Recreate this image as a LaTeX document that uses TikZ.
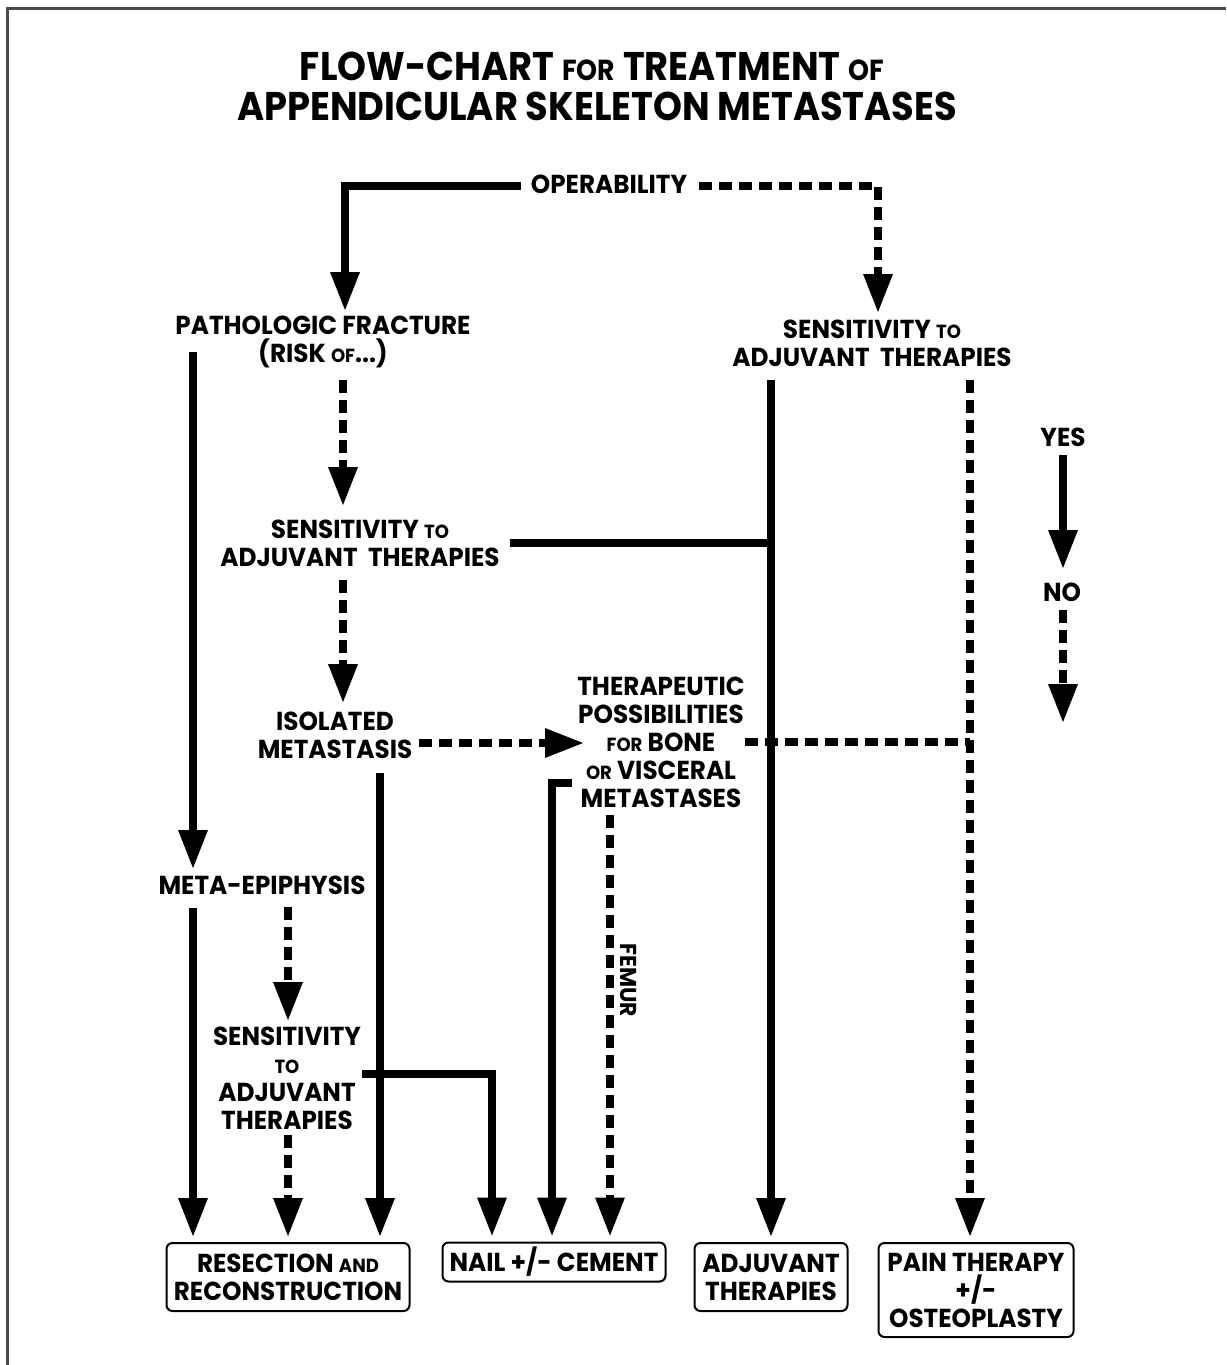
\documentclass[tikz,border=0pt]{standalone}
\usepackage{fontspec}
\newfontfamily\bodyfont[FakeStretch=0.95]{Poppins}
\newfontfamily\titlefont[FakeStretch=0.92]{Poppins}
\usetikzlibrary{arrows.meta,calc}
\newcommand\smw[1]{{\fontsize{19}{19}\selectfont #1}}
\newcommand\smt[1]{{\fontsize{29}{29}\selectfont #1}}
\tikzset{
  sol/.style={line width=7.5pt, line join=miter},
  dsh/.style={line width=7.5pt, dash pattern=on 13pt off 7pt},
  tip/.style={-{Triangle[width=30pt,length=38pt,line width=0pt]}},
  lbl/.style={font=\bodyfont\bfseries\fontsize{26}{28}\selectfont, align=center, inner sep=0pt},
  box/.style={lbl, draw, line width=2pt, rounded corners=6pt},
  ttl/.style={font=\titlefont\bfseries\fontsize{40}{40}\selectfont, inner sep=0pt}
}
\begin{document}
\begin{tikzpicture}[x=1pt,y=-1pt]
\useasboundingbox (0,0) rectangle (1226,1365);
\fill[white] (0,0) rectangle (1226,1365);
\draw[line width=3pt, black!70] (7,1365) -- (7,8) -- (1226,8);

% title
\node[ttl] (t1) at (592,66) {FLOW-CHART \smt{FOR} TREATMENT \smt{OF}};
\node[ttl] (t2) at (597,106) {APPENDICULAR SKELETON METASTASES};

% labels
\node[lbl] (op) at (609,184) {OPERABILITY};
\node[lbl] (pf) at (323,342) {PATHOLOGIC FRACTURE\\(RISK \smw{OF}...)};
\node[lbl] (sr) at (872,343) {SENSITIVITY \smw{TO}\\ADJUVANT\ \ THERAPIES};
\node[lbl] (sm) at (360,543) {SENSITIVITY \smw{TO}\\ADJUVANT\ \ THERAPIES};
\node[lbl] (iso) at (335,735) {ISOLATED\\METASTASIS};
\node[lbl] (tp) at (661,742) {THERAPEUTIC\\POSSIBILITIES\\\smw{FOR} BONE\\\smw{OR} VISCERAL\\METASTASES};
\node[lbl] (me) at (262,885) {META-EPIPHYSIS};
\node[lbl] (sl) at (287,1078) {SENSITIVITY\\\smw{TO}\\ADJUVANT\\THERAPIES};
\node[lbl, font=\bodyfont\bfseries\fontsize{23}{23}\selectfont, rotate=-90] (fe) at (628,980) {FEMUR};
\node[lbl] (yes) at (1063,437) {YES};
\node[lbl] (no) at (1062,592) {NO};
\coordinate (noend) at (1063,722);

% boxes
\node[box, minimum width=243pt, minimum height=68pt] (res) at (288,1277) {RESECTION \smw{AND}\\RECONSTRUCTION};
\node[box, minimum width=223pt, minimum height=39pt] (nail) at (554,1262) {NAIL +/- CEMENT};
\node[box, minimum width=153pt, minimum height=68pt] (adj) at (771,1277) {ADJUVANT\\THERAPIES};
\node[box, minimum width=195pt, minimum height=94pt] (pain) at (976,1290) {PAIN THERAPY\\+/-\\OSTEOPLASTY};

% connectors
\draw[sol,tip] ([shift={(-10,2)}]op.west) -| ([shift={(22,-32)}]pf.center);
\draw[dsh,tip] ([shift={(12,2)}]op.east) -| ([shift={(6,-31)}]sr.center);
\draw[sol,tip] ([shift={(-130,10)}]pf.center) -- ([shift={(-69,-17)}]me.center);
\draw[dsh,tip] ([shift={(20,38)}]pf.center) -- ([shift={(-17,-38)}]sm.center);
\draw[sol] ([xshift=10pt]sm.east) -- (sm.east -| adj.north);
\draw[sol,tip] ([shift={(-101,37)}]sr.center) -- ([shift={(0,-6)}]adj.north);
\draw[dsh,tip] ([shift={(98,37)}]sr.center) -- ([shift={(-6,-6)}]pain.north);
\draw[dsh,tip] ([shift={(-17,37)}]sm.center) -- ([shift={(8,-33)}]iso.center);
\draw[dsh,tip] ([shift={(84,8)}]iso.center) -- ([shift={(-78,1)}]tp.center);
\draw[dsh] ([shift={(84,0)}]tp.center) -- ($(tp.center -| pain.north)+(-6,0)$);
\draw[sol,tip] ([shift={(45,38)}]iso.center) -- ([shift={(92,-6)}]res.north);
\draw[sol,tip] ([shift={(-89,41)}]tp.center) -| ([shift={(-2,-6)}]nail.north);
\draw[dsh,tip] ([shift={(-51,73)}]tp.center) -- ([shift={(56,-6)}]nail.north);
\draw[sol,tip] ([shift={(-69,23)}]me.center) -- ([shift={(-95,-6)}]res.north);
\draw[dsh,tip] ([shift={(26,22)}]me.center) -- ([shift={(1,-58)}]sl.center);
\draw[sol,tip] ([shift={(75,-4)}]sl.center) -| ([shift={(-62,-6)}]nail.north);
\draw[dsh,tip] ([shift={(1,57)}]sl.center) -- ([shift={(0,-6)}]res.north);
\draw[sol,tip] ([shift={(0,18)}]yes.center) -- ([shift={(1,-24)}]no.center);
\draw[dsh,tip] ([shift={(1,18)}]no.center) -- (noend);
\end{tikzpicture}
\end{document}
